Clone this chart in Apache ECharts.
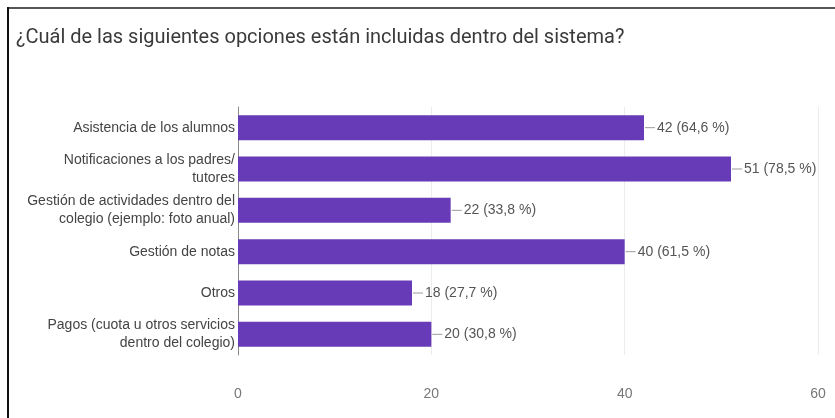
<!DOCTYPE html>
<html>
<head>
<meta charset="utf-8">
<script src="https://cdn.jsdelivr.net/npm/echarts@6/dist/echarts.min.js"></script>
<style>
  html, body { margin: 0; padding: 0; background: #fff; }
  #chart { width: 835px; height: 418px; }
</style>
</head>
<body>
<div id="chart"></div>
<script>
// Survey question and its answer options
const titleText = '¿Cuál de las siguientes opciones están incluidas dentro del sistema?';
const categories = [
  'Asistencia de los alumnos',
  'Notificaciones a los padres/\ntutores',
  'Gestión de actividades dentro del\ncolegio (ejemplo: foto anual)',
  'Gestión de notas',
  'Otros',
  'Pagos (cuota u otros servicios\ndentro del colegio)'
];
// Number of responses per option and the share of respondents
const counts = [42, 51, 22, 40, 18, 20];
const percents = ['64,6', '78,5', '33,8', '61,5', '27,7', '30,8'];
const xTicks = [0, 20, 40, 60];

const chart = echarts.init(document.getElementById('chart'), null, { renderer: 'canvas' });

chart.setOption({
  backgroundColor: '#ffffff',
  animation: false,
  title: {
    text: titleText,
    left: 11,
    top: 23,
    textStyle: {
      fontFamily: 'Roboto',
      fontSize: 20,
      fontWeight: 'normal',
      color: '#3a3a3a'
    }
  },
  graphic: [
    { type: 'line', shape: { x1: 7, y1: 8, x2: 835, y2: 8 }, style: { stroke: '#555', lineWidth: 2 } },
    { type: 'line', shape: { x1: 8, y1: 7, x2: 8, y2: 418 }, style: { stroke: '#111', lineWidth: 2 } }
  ],
  grid: { left: 238, top: 107, width: 580, height: 248, containLabel: false },
  xAxis: {
    type: 'value',
    min: xTicks[0],
    max: xTicks[xTicks.length - 1],
    interval: 20,
    axisLine: { show: false },
    axisTick: { show: false },
    splitLine: { show: true, lineStyle: { color: '#ececec', width: 1 } },
    axisLabel: {
      margin: 32,
      fontFamily: 'Arial, Liberation Sans',
      fontSize: 14,
      color: '#777'
    }
  },
  yAxis: {
    type: 'category',
    data: categories,
    inverse: true,
    axisLine: { show: true, lineStyle: { color: '#8a8a8a', width: 1 } },
    axisTick: { show: false },
    axisLabel: {
      margin: 3,
      fontFamily: 'Arial, Liberation Sans',
      fontSize: 14,
      lineHeight: 18,
      color: '#444',
      align: 'right'
    }
  },
  series: [{
    type: 'bar',
    data: counts,
    barWidth: 25,
    itemStyle: { color: '#673ab7' },
    label: {
      show: true,
      position: 'right',
      distance: 1,
      formatter: function (p) {
        return '{l| }{t|' + counts[p.dataIndex] + ' (' + percents[p.dataIndex] + ' %)}';
      },
      rich: {
        l: { width: 10, height: 1, backgroundColor: '#9a9a9a', padding: 0 },
        t: {
          fontFamily: 'Arial, Liberation Sans',
          fontSize: 14,
          color: '#555',
          padding: [0, 0, 0, 2]
        }
      }
    }
  }]
});
</script>
</body>
</html>
